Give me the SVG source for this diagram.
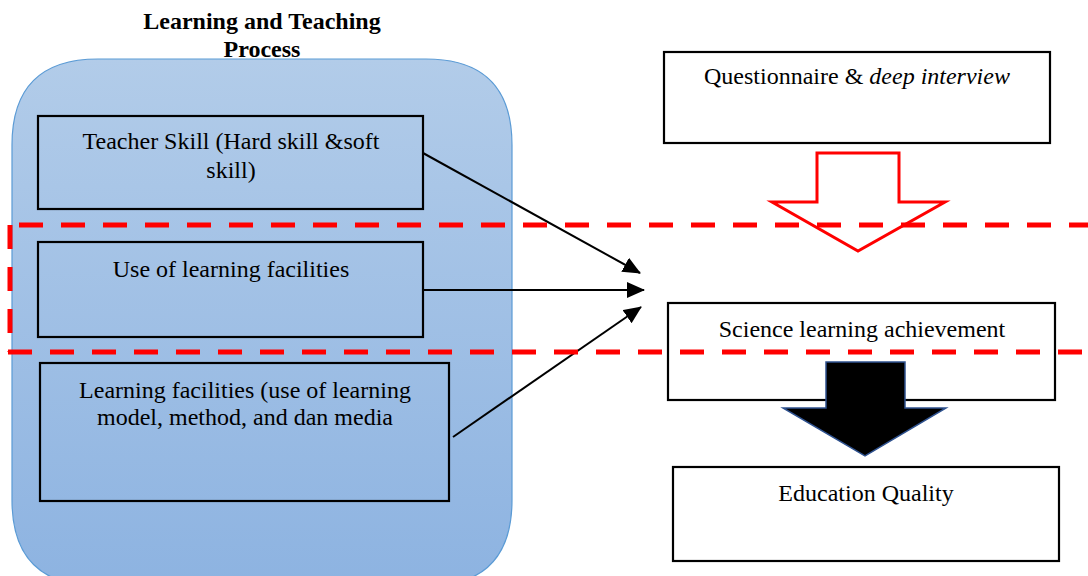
<svg xmlns="http://www.w3.org/2000/svg" width="1088" height="576" viewBox="0 0 1088 576">
  <defs>
    <linearGradient id="panelFill" x1="0" y1="0" x2="0" y2="1">
      <stop offset="0" stop-color="#B2CCE9"/>
      <stop offset="1" stop-color="#8DB3E1"/>
    </linearGradient>
    <marker id="head" markerWidth="18" markerHeight="16" refX="17" refY="8" orient="auto" markerUnits="userSpaceOnUse" viewBox="0 0 18 16">
      <path d="M0,0 L18,8 L0,16 z" fill="#000"/>
    </marker>
    <style>
      .box { fill: none; stroke: #000; stroke-width: 2.2; }
      .wbox { fill: #fff; stroke: #000; stroke-width: 2.2; }
      .lbl { font-family: "Liberation Serif", "Times New Roman", serif; font-size: 24px; fill: #000; text-anchor: middle; }
      .title { font-family: "Liberation Serif", "Times New Roman", serif; font-size: 24px; font-weight: bold; fill: #000; text-anchor: middle; }
      .link { stroke: #000; stroke-width: 2; fill: none; }
      .dash { stroke: #FF0000; stroke-width: 5; stroke-dasharray: 24 18; fill: none; }
    </style>
  </defs>

  <!-- process panel -->
  <g id="panel">
    <path d="M12,500 L12,145 Q12,59 98,59 L426,59 Q512,59 512,145 L512,500 Q512,586 426,586 L98,586 Q12,586 12,500 Z" fill="url(#panelFill)" stroke="#5B9BD5" stroke-width="1.2"/>
    <text class="title" x="262" y="29">Learning and Teaching</text>
    <text class="title" x="262" y="57">Process</text>
  </g>

  <g id="teacher-skill">
    <rect class="box" x="38" y="116" width="385" height="93"/>
    <text class="lbl" x="231" y="149">Teacher Skill (Hard skill &amp;soft</text>
    <text class="lbl" x="231" y="178">skill)</text>
  </g>

  <g id="use-facilities">
    <rect class="box" x="38" y="242" width="385" height="95"/>
    <text class="lbl" x="231" y="277">Use of learning facilities</text>
  </g>

  <g id="learning-facilities">
    <rect class="box" x="40" y="363" width="409" height="138"/>
    <text class="lbl" x="245" y="398">Learning facilities (use of learning</text>
    <text class="lbl" x="245" y="425">model, method, and dan media</text>
  </g>

  <g id="questionnaire">
    <rect class="wbox" x="664" y="52" width="386" height="91"/>
    <text class="lbl" x="857" y="84">Questionnaire &amp; <tspan font-style="italic">deep interview</tspan></text>
  </g>

  <g id="achievement">
    <rect class="wbox" x="668" y="303" width="387" height="97"/>
    <text class="lbl" x="862" y="337">Science learning achievement</text>
  </g>

  <g id="quality">
    <rect class="wbox" x="673" y="467" width="386" height="94"/>
    <text class="lbl" x="866" y="501">Education Quality</text>
  </g>

  <!-- connectors -->
  <g id="connectors">
    <line class="link" x1="423" y1="153" x2="640" y2="273" marker-end="url(#head)"/>
    <line class="link" x1="423" y1="290" x2="644" y2="290" marker-end="url(#head)"/>
    <line class="link" x1="453" y1="437" x2="641" y2="307" marker-end="url(#head)"/>
    <!-- block arrows -->
    <path d="M817,153 L899,153 L899,202 L945,202 L858,251 L772,202 L817,202 Z" fill="#fff" stroke="#FF0000" stroke-width="3"/>
    <path d="M826,362 L905,362 L905,408 L946,408 L865,456 L783,408 L826,408 Z" fill="#000" stroke="#2F528F" stroke-width="1.5"/>
  </g>

  <!-- red dashed band -->
  <g id="band">
    <line class="dash" x1="19" y1="225" x2="1088" y2="225"/>
    <line class="dash" x1="10" y1="225" x2="10" y2="352"/>
    <line class="dash" x1="8" y1="352" x2="1088" y2="352"/>
  </g>
</svg>
